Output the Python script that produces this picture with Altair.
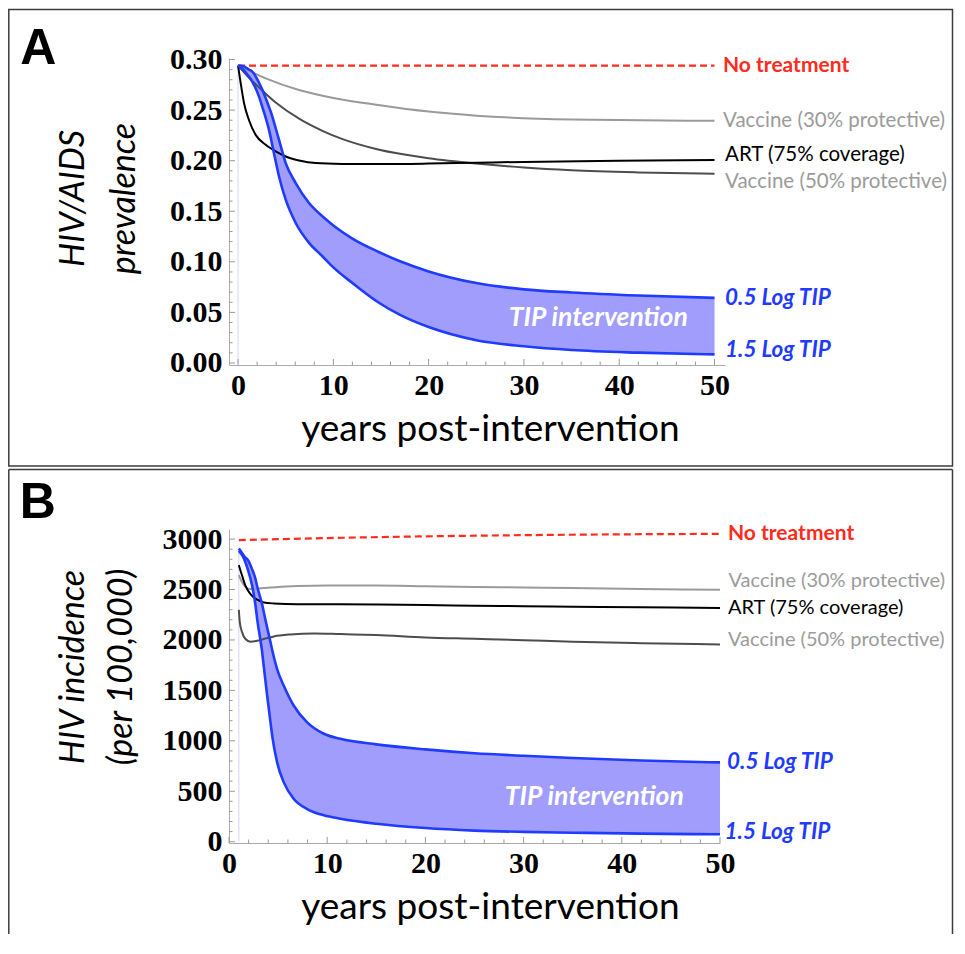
import altair as alt
import pandas as pd

# ---------------- Panel A : HIV/AIDS prevalence ----------------
A_none_years = [0, 50]
A_none_vals = [0.294, 0.294]

A_vac30_years = [0, 1, 2.9, 6.4, 10, 14.7, 20, 25, 35, 50]
A_vac30_vals = [0.294, 0.2895, 0.2814, 0.2699, 0.2620, 0.2550, 0.2485, 0.2445, 0.2407, 0.2394]

A_vac50_years = [0, 1, 1.85, 3.95, 6.4, 8.85, 10.9, 14.7, 20, 25, 30, 35, 42, 50]
A_vac50_vals = [0.294, 0.2835, 0.2755, 0.2575, 0.2415, 0.2295, 0.2215, 0.2110, 0.2025,
                0.1972, 0.1932, 0.1905, 0.1884, 0.1871]

A_art_years = [0, 0.28, 0.63, 1.15, 1.85, 2.9, 3.95, 5.0, 6.4, 8.15, 10.9, 15, 20, 25, 30, 40, 50]
A_art_vals = [0.294, 0.2765, 0.2568, 0.2400, 0.2255, 0.2157, 0.2091, 0.2041, 0.2002, 0.1976,
              0.1968, 0.1966, 0.1971, 0.1980, 0.1988, 0.1998, 0.2006]

A_tip_years = [0, 0.5, 1.15, 1.5, 2.2, 2.55, 3.25, 3.6, 3.77, 4.3, 5.0, 6.05, 7.45, 8.85,
               10, 12, 14.7, 17, 20, 25, 30, 35, 42, 50]
A_tip05_vals = [0.294, 0.2935, 0.290, 0.288, 0.277, 0.270, 0.253, 0.2436, 0.238, 0.2206, 0.1976,
                0.1778, 0.1581, 0.145, 0.136, 0.123, 0.110, 0.1005, 0.0905, 0.079, 0.0728,
                0.0697, 0.0667, 0.0644]
A_tip15_vals = [0.294, 0.2905, 0.283, 0.278, 0.2633, 0.253, 0.2304, 0.215, 0.2074, 0.1844,
                0.1614, 0.1384, 0.1187, 0.1055, 0.0945, 0.079, 0.060, 0.0475, 0.0355, 0.0225,
                0.0165, 0.0128, 0.0102, 0.0085]

# ---------------- Panel B : HIV incidence ----------------
B_none_years = [1, 10, 20, 30, 40, 50]
B_none_vals = [2990, 3010, 3027, 3039, 3047, 3052]

B_vac30_years = [1, 1.35, 1.7, 2.19, 2.8, 3.55, 5, 6.94, 10, 15, 20, 25, 30, 35, 42, 50]
B_vac30_vals = [2643, 2570, 2525, 2504, 2508, 2514, 2525, 2534, 2540, 2540, 2533, 2525, 2520,
                2514, 2506, 2497]

B_art_years = [1, 1.34, 1.68, 2.19, 2.87, 3.55, 4.57, 6.94, 10, 15, 20, 25, 30, 35, 42, 50]
B_art_vals = [2742, 2636, 2537, 2455, 2399, 2372, 2362, 2355, 2355, 2352, 2346, 2340, 2335,
              2330, 2325, 2318]

B_vac50_years = [1, 1.1, 1.34, 1.68, 2.19, 2.87, 3.55, 4.57, 6.26, 8.64, 11.35, 15, 20, 25,
                 30, 35, 42, 50]
B_vac50_vals = [2299, 2174, 2075, 2009, 1982, 1992, 2009, 2035, 2055, 2065, 2058, 2048, 2025,
                2012, 1998, 1982, 1968, 1955]

B_tip_years = [1, 1.34, 1.68, 1.85, 2.36, 2.7, 2.87, 3.38, 3.55, 3.89, 4.23, 4.4, 4.9, 5.58,
               6.6, 7.96, 9.66, 11.35, 15, 20, 25, 30, 35, 42, 50]
B_tip05_vals = [2907, 2860, 2815, 2801, 2700, 2603, 2530, 2350, 2273, 2120, 1976, 1900, 1711,
                1546, 1348, 1183, 1070, 1020, 965, 915, 877, 852, 830, 805, 786]
B_tip15_vals = [2884, 2840, 2768, 2720, 2537, 2340, 2207, 1876, 1730, 1447, 1180, 1050, 786,
                588, 423, 324, 262, 228, 178, 135, 110, 97, 89, 80, 73]

# ---------------- axis ticks ----------------
A_x_major = [0, 10, 20, 30, 40, 50]
A_y_major = [0, 0.05, 0.10, 0.15, 0.20, 0.25, 0.30]
B_x_major = [0, 10, 20, 30, 40, 50]
B_y_major = [0, 500, 1000, 1500, 2000, 2500, 3000]
x_minor = [v for v in range(2, 50, 2) if v % 10 != 0]
A_y_minor = [round(i * 0.01, 2) for i in range(31) if i % 5 != 0]
B_y_minor = [i * 100 for i in range(31) if i % 5 != 0]

RED = "#ff2b1c"
BLUE = "#1f3bff"
FILL = "#a19dfd"
GRAY_L = "#9a9a9a"
GRAY_D = "#4d4d4d"
LABEL_GRAY = "#9b9b9b"
TICK = "#9a9a9a"
AXIS = "#aaaaaa"
FONT = "Lato"
NUMFONT = "Liberation Serif"

dummy = pd.DataFrame({"k": [0]})


def line(years, vals, color, xs, ys, width=2.0, dash=None):
    df = pd.DataFrame({"x": years, "y": vals})
    kw = dict(color=color, strokeWidth=width, interpolate="monotone")
    if dash:
        kw["strokeDash"] = dash
    return alt.Chart(df).mark_line(**kw).encode(
        x=alt.X("x:Q", scale=xs),
        y=alt.Y("y:Q", scale=ys),
    )


def label(x, y, text, color, xs, ys, size, dx, dy=0, weight="normal", style="normal"):
    df = pd.DataFrame({"x": [x], "y": [y], "text": [text]})
    return alt.Chart(df).mark_text(
        align="left", baseline="middle", dx=dx, dy=dy, font=FONT, fontSize=size,
        fontWeight=weight, fontStyle=style, color=color,
    ).encode(
        x=alt.X("x:Q", scale=xs),
        y=alt.Y("y:Q", scale=ys),
        text="text:N",
    )


def xticks(vals, length, xs, H):
    df = pd.DataFrame({"t": vals})
    return alt.Chart(df).mark_rule(color=TICK, strokeWidth=1).encode(
        x=alt.X("t:Q", scale=xs), y=alt.value(H), y2=alt.value(H - length)
    )


def yticks(vals, length, ys):
    df = pd.DataFrame({"t": vals})
    return alt.Chart(df).mark_rule(color=TICK, strokeWidth=1).encode(
        y=alt.Y("t:Q", scale=ys), x=alt.value(0), x2=alt.value(length)
    )


def num_axis_common():
    return dict(
        labelFont=NUMFONT, labelFontWeight="bold", labelFontSize=30, labelColor="black",
        ticks=False, tickSize=0, grid=False, domainColor=AXIS, domainWidth=1,
        labelOverlap=False, labelFlush=False, titleFont=FONT, titleColor="black",
        titleFontWeight="normal",
    )


def panel(tip_years, hi, lo, series, xs, ys, W, H, x_major, y_major, y_minor, yfmt,
          ytitle, ytitle_x, ytitle_y, ytitle_lh, labels, tip_xy, letter, letter_xy, frame):
    xaxis = alt.Axis(values=x_major, format="d", labelPadding=5,
                     title="years post-intervention", titleFontSize=37, titleX=261,
                     titleY=75, titleAlign="center", titleBaseline="alphabetic",
                     **num_axis_common())
    yaxis = alt.Axis(values=y_major, format=yfmt, labelPadding=7, title=ytitle,
                     titleFontSize=34, titleFontStyle="italic", titleAngle=270,
                     titleX=ytitle_x, titleY=ytitle_y, titleAlign="center",
                     titleBaseline="alphabetic", titleLineHeight=ytitle_lh,
                     **num_axis_common())
    tip_df = pd.DataFrame({"x": tip_years, "hi": hi, "lo": lo})
    area = alt.Chart(tip_df).mark_area(color=FILL, interpolate="monotone").encode(
        x=alt.X("x:Q", scale=xs, axis=xaxis),
        y=alt.Y("hi:Q", scale=ys, axis=yaxis),
        y2=alt.Y2("lo:Q"),
    )
    edge_df = pd.DataFrame({"x": [tip_years[0]], "top": [hi[0]], "bot": [0]})
    edge = alt.Chart(edge_df).mark_rule(color="#dcdcff", strokeWidth=1.2).encode(
        x=alt.X("x:Q", scale=xs),
        y=alt.Y("top:Q", scale=ys),
        y2=alt.Y2("bot:Q"),
    )
    layers = [area, edge]
    layers += [line(*s[:2], s[2], xs, ys, width=s[3], dash=s[4]) for s in series]
    layers.append(line(tip_years, hi, BLUE, xs, ys, width=2.6))
    layers.append(line(tip_years, lo, BLUE, xs, ys, width=2.6))
    layers.append(xticks(x_major, 6, xs, H))
    layers.append(xticks(x_minor, 3.5, xs, H))
    layers.append(yticks(y_major, 6, ys))
    layers.append(yticks(y_minor, 3.5, ys))
    for lb in labels:
        layers.append(label(*lb[:2], lb[2], lb[3], xs, ys, size=lb[4], dx=lb[5], dy=lb[6],
                            weight=lb[7], style=lb[8]))
    tip_txt = pd.DataFrame({"x": [tip_xy[0]], "y": [tip_xy[1]], "text": ["TIP intervention"]})
    layers.append(alt.Chart(tip_txt).mark_text(
        align="center", baseline="middle", font=FONT, fontSize=26.5, fontWeight="bold",
        fontStyle="italic", color="white").encode(
        x=alt.X("x:Q", scale=xs), y=alt.Y("y:Q", scale=ys),
        text="text:N"))
    let_df = pd.DataFrame({"t": [letter]})
    layers.append(alt.Chart(let_df).mark_text(
        align="left", baseline="alphabetic", font="Liberation Sans", fontSize=50,
        fontWeight="bold", color="black").encode(
        text="t:N", x=alt.value(letter_xy[0]), y=alt.value(letter_xy[1])))
    layers += frame
    return alt.layer(*layers).properties(width=W, height=H)


FRAME_L, FRAME_R = -220.2, 723.5
FRAME_COLOR = "#3c3c3c"

# ---- panel A ----
xsA = alt.Scale(domain=[-0.95, 51.1], nice=False, zero=False)
ysA = alt.Scale(domain=[-0.002, 0.3015], nice=False, zero=False)
seriesA = [
    (A_vac30_years, A_vac30_vals, GRAY_L, 2.0, None),
    (A_vac50_years, A_vac50_vals, GRAY_D, 2.0, None),
    (A_art_years, A_art_vals, "black", 2.0, None),
    (A_none_years, A_none_vals, RED, 2.2, [7, 4]),
]
labelsA = [
    (A_none_years[-1], A_none_vals[-1], "No treatment", RED, 21, 8.5, 0, "bold", "normal"),
    (A_vac30_years[-1], A_vac30_vals[-1], "Vaccine (30% protective)", LABEL_GRAY, 20.5, 8.5, 0, "normal", "normal"),
    (A_art_years[-1], A_art_vals[-1], "ART (75% coverage)", "black", 20.5, 10.5, -5, "normal", "normal"),
    (A_vac50_years[-1], A_vac50_vals[-1], "Vaccine (50% protective)", LABEL_GRAY, 20.5, 10.5, 8, "normal", "normal"),
    (A_tip_years[-1], A_tip05_vals[-1], "0.5 Log TIP", BLUE, 22.5, 10.5, 0, "bold", "italic"),
    (A_tip_years[-1], A_tip15_vals[-1], "1.5 Log TIP", BLUE, 22.5, 10.5, -4, "bold", "italic"),
]
frameA = [alt.Chart(dummy).mark_rect(fill="transparent", stroke=FRAME_COLOR, strokeWidth=1.5).encode(
    x=alt.value(FRAME_L), x2=alt.value(FRAME_R), y=alt.value(-48.5), y2=alt.value(408))]
panelA = panel(A_tip_years, A_tip05_vals, A_tip15_vals, seriesA, xsA, ysA, 496, 307,
               A_x_major, A_y_major, A_y_minor, ".2f", ["HIV/AIDS", "prevalence"],
               -145.4, 140, 51, labelsA, (37.8, 0.044), "A", (-208.7, 6), frameA)

# ---- panel B ----
xsB = alt.Scale(domain=[0, 50], nice=False, zero=False)
ysB = alt.Scale(domain=[-13, 3100], nice=False, zero=False)
seriesB = [
    (B_vac30_years, B_vac30_vals, GRAY_L, 2.0, None),
    (B_vac50_years, B_vac50_vals, GRAY_D, 2.0, None),
    (B_art_years, B_art_vals, "black", 2.0, None),
    (B_none_years, B_none_vals, RED, 2.2, [7, 4]),
]
labelsB = [
    (B_none_years[-1], B_none_vals[-1], "No treatment", RED, 21, 8, 0, "bold", "normal"),
    (B_vac30_years[-1], B_vac30_vals[-1], "Vaccine (30% protective)", LABEL_GRAY, 20, 8.5, -9, "normal", "normal"),
    (B_art_years[-1], B_art_vals[-1], "ART (75% coverage)", "black", 20, 8, 0, "normal", "normal"),
    (B_vac50_years[-1], B_vac50_vals[-1], "Vaccine (50% protective)", LABEL_GRAY, 20, 8, -4, "normal", "normal"),
    (B_tip_years[-1], B_tip05_vals[-1], "0.5 Log TIP", BLUE, 22.5, 7, 0, "bold", "italic"),
    (B_tip_years[-1], B_tip15_vals[-1], "1.5 Log TIP", BLUE, 22.5, 4.5, -2, "bold", "italic"),
]
B_TOP, B_BOT = -59.5, 405
frameB = [
    alt.Chart(dummy).mark_rule(color=FRAME_COLOR, strokeWidth=1.5).encode(
        x=alt.value(FRAME_L), x2=alt.value(FRAME_R), y=alt.value(B_TOP)),
    alt.Chart(dummy).mark_rule(color=FRAME_COLOR, strokeWidth=1.5).encode(
        x=alt.value(FRAME_L), y=alt.value(B_TOP), y2=alt.value(B_BOT)),
    alt.Chart(dummy).mark_rule(color=FRAME_COLOR, strokeWidth=1.5).encode(
        x=alt.value(FRAME_R), y=alt.value(B_TOP), y2=alt.value(B_BOT)),
]
panelB = panel(B_tip_years, B_tip05_vals, B_tip15_vals, seriesB, xsB, ysB, 491, 314,
               B_x_major, B_y_major, B_y_minor, "d", ["HIV incidence", "(per 100,000)"],
               -145.7, 137.5, 48, labelsB, (37.2, 439), "B", (-209.3, -11), frameB)

chart = alt.vconcat(panelA, panelB, spacing=164, bounds="flush").properties(
    padding=0
).configure_view(strokeWidth=0)

chart.save("out.html", embed_options={"renderer": "svg", "actions": False})
